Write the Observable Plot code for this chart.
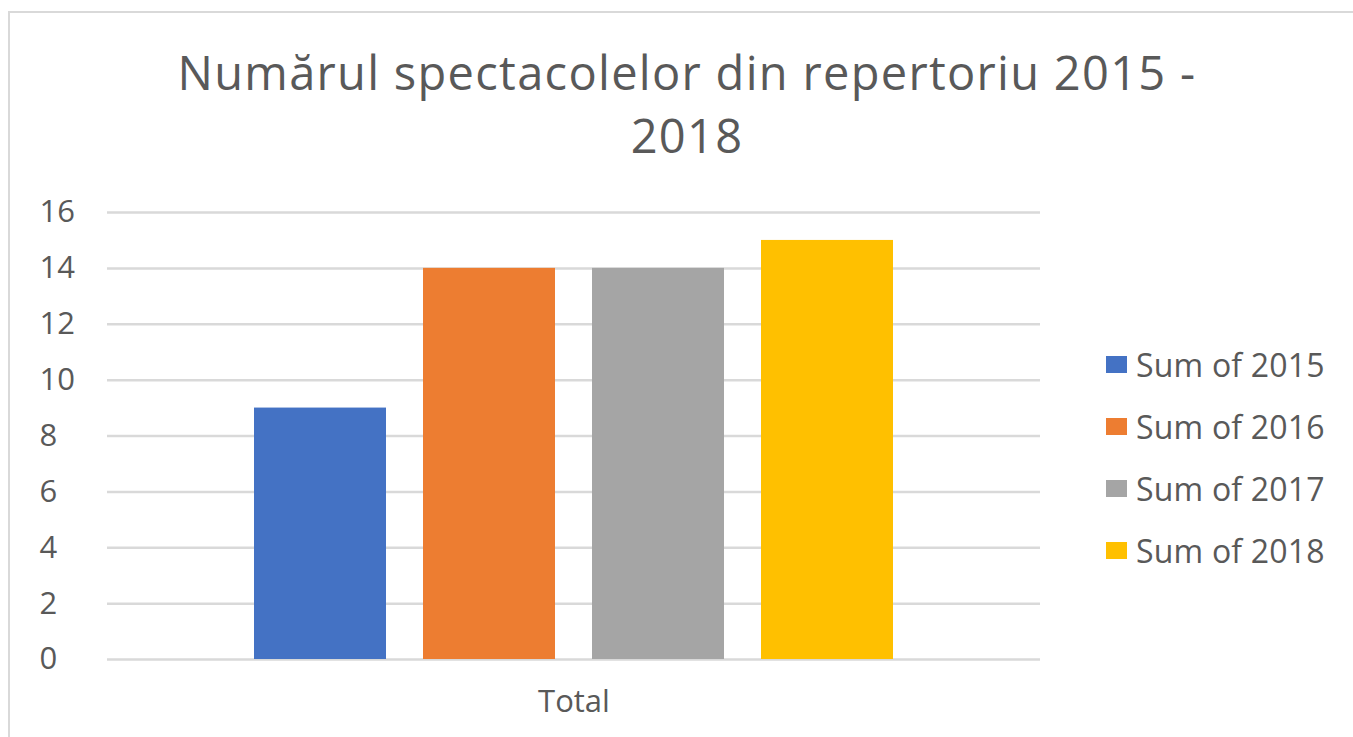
<!DOCTYPE html>
<html>
<head>
<meta charset="utf-8">
<script src="https://cdn.jsdelivr.net/npm/d3@7"></script>
<script src="https://cdn.jsdelivr.net/npm/@observablehq/plot@0.6"></script>
<style>
  html, body { margin: 0; padding: 0; background: #fff; overflow: hidden; }
  #wrap { position: relative; width: 1353px; height: 737px; overflow: hidden; font-family: "Open Sans", sans-serif; color: #595959; }
  #frame { position: absolute; left: 8px; top: 11px; width: 1400px; height: 800px; border: 2px solid #d9d9d9; box-sizing: border-box; }
  #title { position: absolute; left: 137px; width: 1100px; top: 41px; text-align: center; font-size: 47px; letter-spacing: 1.3px; line-height: 63px; white-space: pre-line; }
  #chart { position: absolute; left: 0; top: 180px; }
  #legend { position: absolute; left: 1106px; top: 333px; }
  .row { display: flex; align-items: center; height: 62px; font-size: 32px; letter-spacing: 0.2px; }
  .sw { width: 21px; height: 17px; margin-right: 9px; }
</style>
</head>
<body>
<div id="wrap">
  <div id="frame"></div>
  <div id="title"></div>
  <div id="chart"></div>
  <div id="legend"></div>
</div>
<script>
const titleText = "Numărul spectacolelor din repertoriu 2015 -\n2018";
const category = "Total";
const series = ["Sum of 2015", "Sum of 2016", "Sum of 2017", "Sum of 2018"];
const values = [9, 14, 14, 15];
const colors = ["#4472C4", "#ED7D31", "#A5A5A5", "#FFC000"];
const yTicks = [0, 2, 4, 6, 8, 10, 12, 14, 16];

const data = series.map((s, i) => ({group: category, series: s, value: values[i]}));

document.getElementById("title").textContent = titleText;

const chart = Plot.plot({
  width: 1353,
  height: 557,
  marginLeft: 107,
  marginRight: 313,
  marginTop: 32,
  marginBottom: 78,
  style: {fontFamily: "Open Sans, sans-serif", color: "#595959", background: "transparent"},
  fx: {domain: [category], padding: 0},
  x: {domain: series, paddingInner: 0.22, paddingOuter: 0.87, axis: null},
  y: {domain: [0, 16]},
  color: {domain: series, range: colors},
  marks: [
    Plot.gridY(yTicks, {stroke: "#d9d9d9", strokeOpacity: 1, strokeWidth: 2.5}),
    Plot.barY(data, {fx: "group", x: "series", y: "value", fill: "series"}),
    Plot.axisY(yTicks, {tickSize: 0, tickPadding: 0, textAnchor: "start", dx: -68, fontSize: 31, fill: "#595959", label: null}),
    Plot.axisFx({anchor: "bottom", tickSize: 0, tickPadding: 30, fontSize: 31, fill: "#595959", label: null})
  ]
});
document.getElementById("chart").appendChild(chart);

const legend = document.getElementById("legend");
series.forEach((s, i) => {
  const row = document.createElement("div");
  row.className = "row";
  const sw = document.createElement("div");
  sw.className = "sw";
  sw.style.background = colors[i];
  const t = document.createElement("span");
  t.textContent = s;
  row.appendChild(sw);
  row.appendChild(t);
  legend.appendChild(row);
});
</script>
</body>
</html>
